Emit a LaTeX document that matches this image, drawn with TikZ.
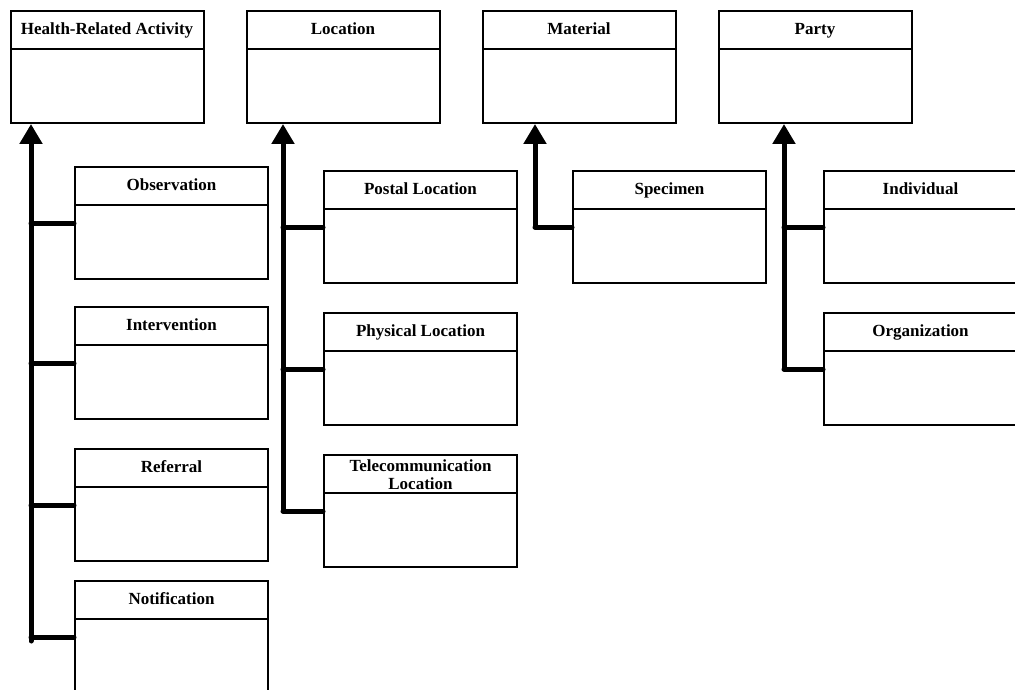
\documentclass[tikz,border=0pt]{standalone}
\usepackage{fontspec}
\setmainfont{Liberation Serif}
\usetikzlibrary{arrows.meta}
\tikzset{
  cls/.style={draw, line width=2pt, minimum width=193pt, minimum height=112pt, inner sep=0pt},
  hd/.style={draw, line width=2pt, anchor=north, minimum width=193pt, minimum height=38pt,
    inner sep=0pt, align=center, font=\fontsize{17}{18}\selectfont\bfseries},
  isa/.style={line width=5pt, line cap=round, -{Triangle[width=22pt,length=20pt]}},
  sub/.style={line width=5pt, line cap=round}
}
% class box: name, centre, title
\newcommand{\umlclass}[3]{\node[cls] (#1) at (#2) {};
  \node[hd] (#1-h) at (#1.north) {\rule[-4.5pt]{0pt}{18pt}#3};}
\begin{document}
\begin{tikzpicture}[x=1pt, y=-1pt]
\useasboundingbox (0,0) rectangle (1015,690);
% top level
\umlclass{hra}{107,67}{Health-Related Activity}
\umlclass{loc}{343,67}{Location}
\umlclass{mat}{579,67}{Material}
\umlclass{par}{815,67}{Party}
% subclasses
\umlclass{obs}{171.5,223}{Observation}
\umlclass{int}{171.5,363}{Intervention}
\umlclass{ref}{171.5,505}{Referral}
\umlclass{not}{171.5,637}{Notification}
\umlclass{pos}{420.5,227}{Postal Location}
\umlclass{phy}{420.5,369}{Physical Location}
\umlclass{tel}{420.5,511}{Telecommunication\\Location}
\umlclass{spe}{669.5,227}{Specimen}
\umlclass{ind}{920.5,227}{Individual}
\umlclass{org}{920.5,369}{Organization}
% generalisation trees
\coordinate (hra-foot) at ([xshift=-43pt,yshift=-4pt]not.west);
\coordinate (loc-foot) at ([xshift=-40pt]tel.west);
\coordinate (mat-foot) at ([xshift=-37pt]spe.west);
\coordinate (par-foot) at ([xshift=-39pt]org.west);
\draw[isa] (hra-foot) -- (hra-foot |- hra.south);
\draw[isa] (loc-foot) -- (loc-foot |- loc.south);
\draw[isa] (mat-foot) -- (mat-foot |- mat.south);
\draw[isa] (par-foot) -- (par-foot |- par.south);
\foreach \c in {obs,int,ref,not}
  \draw[sub] (\c.west) -- (\c.west -| hra-foot);
\foreach \c in {pos,phy,tel}
  \draw[sub] (\c.west) -- (\c.west -| loc-foot);
\draw[sub] (spe.west) -- (mat-foot);
\foreach \c in {ind,org}
  \draw[sub] (\c.west) -- (\c.west -| par-foot);
\end{tikzpicture}
\end{document}
